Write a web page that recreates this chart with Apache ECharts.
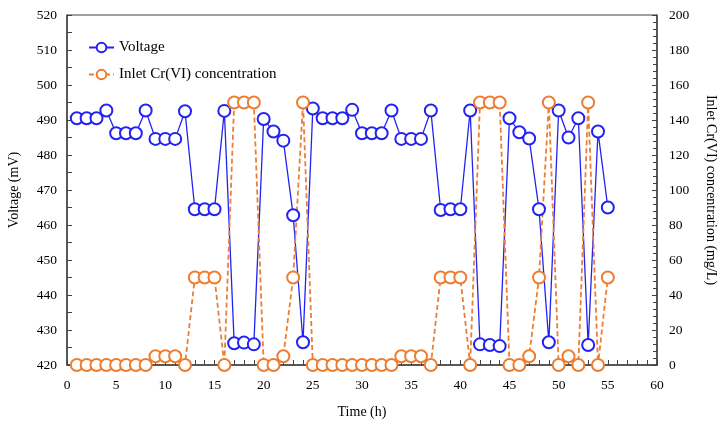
<!DOCTYPE html>
<html>
<head>
<meta charset="utf-8">
<script src="https://cdn.jsdelivr.net/npm/echarts@6/dist/echarts.min.js"></script>
<style>
  html, body { margin: 0; padding: 0; background: #fff; }
  #chart { width: 725px; height: 427px; }
</style>
</head>
<body>
<div id="chart"></div>
<script>
// hours 1..55
var hours = [];
for (var h = 1; h <= 55; h++) hours.push(h);

var voltage = [
  490.5, 490.5, 490.5, 492.7, 486.2, 486.2, 486.2, 492.7, 484.6, 484.6,
  484.6, 492.5, 464.5, 464.5, 464.5, 492.6, 426.2, 426.4, 425.9, 490.3,
  486.7, 484.1, 462.8, 426.5, 493.3, 490.5, 490.5, 490.5, 492.9, 486.2,
  486.2, 486.2, 492.7, 484.6, 484.6, 484.6, 492.7, 464.3, 464.5, 464.5,
  492.7, 425.9, 425.7, 425.4, 490.5, 486.5, 484.7, 464.5, 426.5, 492.7,
  485.0, 490.5, 425.7, 486.7, 465.0
];

var crConc = [
  0, 0, 0, 0, 0, 0, 0, 0, 5, 5,
  5, 0, 50, 50, 50, 0, 150, 150, 150, 0,
  0, 5, 50, 150, 0, 0, 0, 0, 0, 0,
  0, 0, 0, 5, 5, 5, 0, 50, 50, 50,
  0, 150, 150, 150, 0, 0, 5, 50, 150, 0,
  5, 0, 150, 0, 50
];

var font = "'Liberation Serif', 'Times New Roman', serif";
var blue = "#2222f2";
var orange = "#ed7d31";

function pairs(vals) {
  return vals.map(function (v, i) { return [hours[i], v]; });
}

var chart = echarts.init(document.getElementById("chart"));

var option = {
  animation: false,
  textStyle: { fontFamily: font, color: "#000" },
  grid: {
    left: 67,
    right: 68,
    top: 15,
    bottom: 62,
    outerBoundsMode: "none",
    show: true,
    borderColor: "#404040",
    borderWidth: 1
  },
  legend: {
    orient: "vertical",
    left: 83,
    top: 35,
    itemWidth: 25,
    itemHeight: 12,
    itemGap: 12,
    textStyle: { fontFamily: font, fontSize: 15, color: "#000" },
    data: ["Voltage", "Inlet Cr(VI) concentration"]
  },
  xAxis: {
    type: "value",
    min: 0,
    max: 60,
    interval: 5,
    name: "Time (h)",
    nameLocation: "middle",
    nameGap: 40,
    nameTextStyle: { fontFamily: font, fontSize: 14, color: "#000" },
    axisLine: { lineStyle: { color: "#404040", width: 1.5 } },
    axisTick: { inside: true, length: 5, lineStyle: { color: "#404040" } },
    minorTick: { show: true, splitNumber: 5, length: 5, lineStyle: { color: "#404040" } },
    axisLabel: { fontFamily: font, fontSize: 13.5, color: "#000", margin: 13 },
    splitLine: { show: false }
  },
  yAxis: [
    {
      type: "value",
      min: 420,
      max: 520,
      interval: 10,
      name: "Voltage (mV)",
      nameLocation: "middle",
      nameGap: 46,
      nameTextStyle: { fontFamily: font, fontSize: 14, color: "#000" },
      axisLine: { show: true, lineStyle: { color: "#404040", width: 1.5 } },
      axisTick: { show: true, inside: true, length: 5, lineStyle: { color: "#404040" } },
      minorTick: { show: true, splitNumber: 2, length: 5, lineStyle: { color: "#404040" } },
      axisLabel: { fontFamily: font, fontSize: 13.5, color: "#000", margin: 10 },
      splitLine: { show: false }
    },
    {
      type: "value",
      min: 0,
      max: 200,
      interval: 20,
      position: "right",
      name: "Inlet Cr(VI) concentration (mg/L)",
      nameLocation: "middle",
      nameGap: 47,
      nameRotate: -90,
      nameTextStyle: { fontFamily: font, fontSize: 14, color: "#000" },
      axisLine: { show: true, lineStyle: { color: "#404040", width: 1.5 } },
      axisTick: { show: true, inside: true, length: 5, lineStyle: { color: "#404040" } },
      minorTick: { show: true, splitNumber: 5, length: 4, lineStyle: { color: "#404040" } },
      axisLabel: { fontFamily: font, fontSize: 13.5, color: "#000", margin: 12 },
      splitLine: { show: false }
    }
  ],
  series: [
    {
      name: "Voltage",
      type: "line",
      yAxisIndex: 0,
      data: pairs(voltage),
      symbol: "emptyCircle",
      symbolSize: 12,
      lineStyle: { color: blue, width: 1.3 },
      itemStyle: { color: blue, borderWidth: 1.5 }
    },
    {
      name: "Inlet Cr(VI) concentration",
      type: "line",
      yAxisIndex: 1,
      data: pairs(crConc),
      symbol: "emptyCircle",
      symbolSize: 12,
      lineStyle: { color: orange, width: 1.8, type: [5, 3] },
      itemStyle: { color: orange, borderWidth: 1.5 }
    }
  ]
};

chart.setOption(option);
</script>
</body>
</html>
